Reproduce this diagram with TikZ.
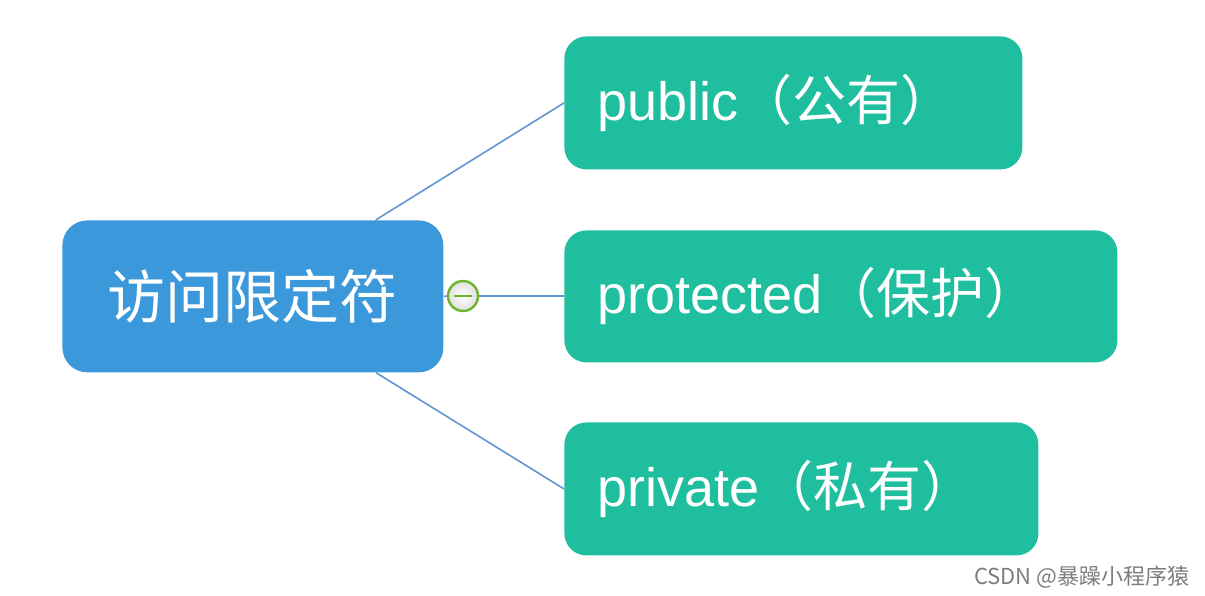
\documentclass[tikz,border=0pt]{standalone}
\usepackage{fontspec}
\setmainfont{Liberation Sans}
\newfontfamily\cjk{Noto Sans CJK SC}
\definecolor{rootblue}{RGB}{58,152,219}
\definecolor{leafgreen}{RGB}{30,190,158}
\definecolor{linkblue}{RGB}{95,150,210}
\definecolor{togglegreen}{RGB}{110,180,40}
\definecolor{wmgray}{RGB}{125,125,125}
\begin{document}
\begin{tikzpicture}[x=0.5pt,y=-0.5pt,
  rootbox/.style={draw=none,fill=rootblue,rounded corners=12.5pt,anchor=north west,
    minimum width=190.5pt,minimum height=76pt,inner sep=0pt,text=white,
    font=\cjk\fontsize{29}{32}\selectfont},
  leafbox/.style={draw=none,fill=leafgreen,rounded corners=11pt,anchor=north west,
    inner xsep=16.5pt,inner ysep=0pt,text=white,align=left,
    font=\fontsize{27}{30}\selectfont},
  link/.style={draw=linkblue,line width=0.8pt},
  togglebtn/.style={circle,draw=togglegreen,line width=1.2pt,
    inner color=white,outer color=gray!25,
    minimum size=15pt,inner sep=0pt}
]
\useasboundingbox (0,0) rectangle (1205,595);
\node[rootbox] (root) at (62,220) {访问限定符};
\node[leafbox,minimum width=229pt,minimum height=66.5pt,text width=196pt] (pub) at (564,36) {public{\cjk（公有）}};
\node[leafbox,minimum width=276.5pt,minimum height=66pt,text width=243.5pt] (prot) at (564,230) {protected{\cjk（保护）}};
\node[leafbox,minimum width=237pt,minimum height=66.5pt,text width=204pt] (priv) at (564,422) {private{\cjk（私有）}};
\node[togglebtn] (tog) at (463,296) {};
\draw[link] (root) -- (pub.west);
\draw[link] (root) -- (priv.west);
\draw[link] (root.east) -- (tog.west);
\draw[link] (tog.east) -- (tog.east -| prot.west);
\draw[togglegreen,line width=1.2pt] ([xshift=-4.5pt]tog.center) -- ([xshift=4.5pt]tog.center);
\node[anchor=east,text=wmgray,inner sep=0pt,font=\cjk\fontsize{11}{12}\selectfont] (wm) at (1190,577) {CSDN @暴躁小程序猿};
\end{tikzpicture}
\end{document}
